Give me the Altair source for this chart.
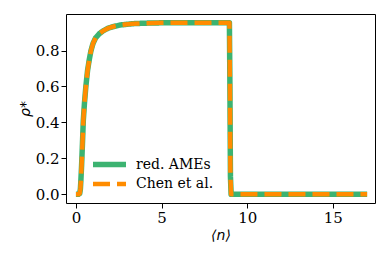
import altair as alt
import pandas as pd

n_vals = [0.0, 0.15, 0.22, 0.26, 0.29, 0.33, 0.38, 0.43, 0.50, 0.58, 0.68, 0.78,
          0.88, 1.0, 1.15, 1.36, 1.6, 1.9, 2.14, 2.6, 3.3, 4.0, 5.0, 6.0, 7.0,
          8.0, 8.96, 8.99, 9.02, 9.06, 10.0, 12.0, 14.0, 17.0]
rho_vals = [0.0, 0.0, 0.005, 0.03, 0.08, 0.16, 0.28, 0.41, 0.51, 0.60, 0.69, 0.75,
            0.80, 0.84, 0.87, 0.893, 0.91, 0.925, 0.932, 0.942, 0.949, 0.952, 0.954,
            0.955, 0.955, 0.955, 0.955, 0.6, 0.1, 0.0, 0.0, 0.0, 0.0, 0.0]
series = ["red. AMEs", "Chen et al."]
colors = ["#3cb371", "#ff8c00"]
widths = [5.5, 4.5]
dashes = [[1, 0], [17, 7]]
x_ticks = [0, 5, 10, 15]
y_ticks = [0.0, 0.2, 0.4, 0.6, 0.8]

rows = []
for i, s in enumerate(series):
    for n, r in zip(n_vals, rho_vals):
        rows.append({"n": n, "rho": r, "series": s, "order": i})
df = pd.DataFrame(rows)

serif = "DejaVu Serif, serif"

chart = alt.Chart(df).mark_line(strokeCap="butt", strokeJoin="round", clip=False).encode(
    x=alt.X("n:Q", scale=alt.Scale(domain=[-0.58, 17.46], nice=False, zero=False),
            axis=alt.Axis(values=x_ticks, title="⟨n⟩", format="d", labelFont=serif,
                          titlePadding=3)),
    y=alt.Y("rho:Q", scale=alt.Scale(domain=[-0.048, 1.003], nice=False, zero=False),
            axis=alt.Axis(values=y_ticks, title="ρ*", format=".1f", labelFont=serif,
                          titlePadding=3)),
    color=alt.Color("series:N", scale=alt.Scale(domain=series, range=colors),
                    legend=alt.Legend(title=None, orient="none", legendX=35, legendY=142,
                                      symbolType="M-3,0H3", symbolSize=121,
                                      symbolStrokeWidth=5, labelFont=serif,
                                      labelFontSize=14, labelColor="black",
                                      rowPadding=-1, labelOffset=18)),
    strokeDash=alt.StrokeDash("series:N", scale=alt.Scale(domain=series, range=dashes)),
    strokeWidth=alt.StrokeWidth("series:N", scale=alt.Scale(domain=series, range=widths), legend=None),
    order=alt.Order("order:Q"),
).properties(
    width=309, height=189,
    autosize=alt.AutoSizeParams(type="none"),
    padding={"left": 58, "top": 6, "right": 6, "bottom": 40},
).configure_view(
    stroke="black", strokeWidth=1
).configure_axis(
    grid=False, domain=False, tickColor="black", tickSize=5, tickWidth=1,
    labelFont=serif, labelFontSize=15, labelColor="black", labelPadding=2,
    titleFont="DejaVu Sans", titleFontSize=14, titleFontWeight="normal",
    titleFontStyle="italic", titleColor="black"
)

chart.save("out.html", embed_options={"renderer": "svg", "actions": False})
